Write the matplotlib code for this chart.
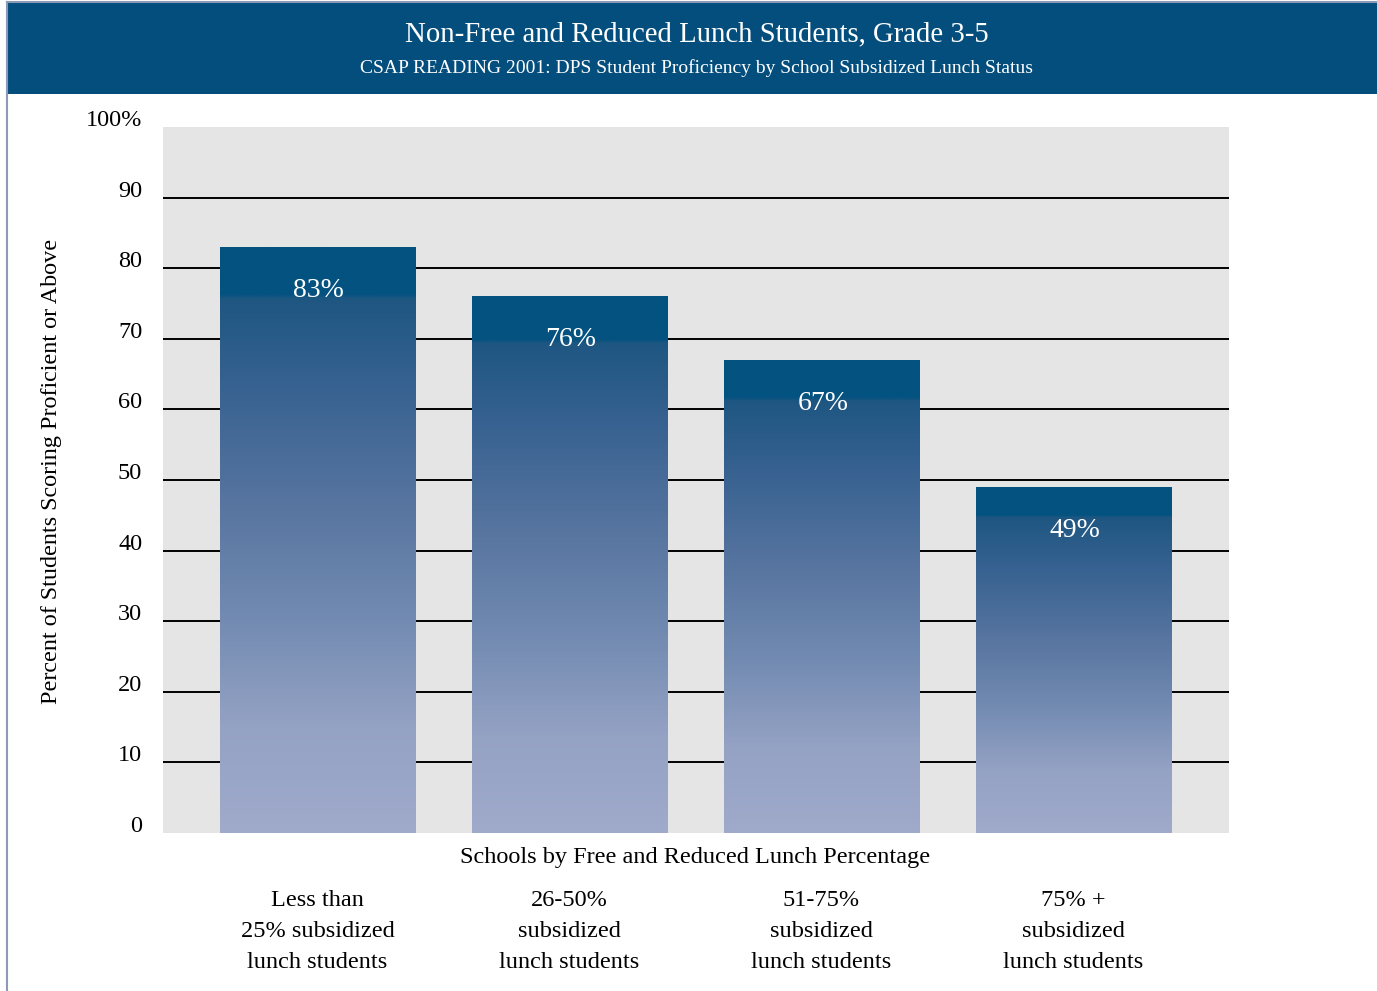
import matplotlib
matplotlib.use("Agg")
import matplotlib.pyplot as plt
import numpy as np
from matplotlib.colors import LinearSegmentedColormap
from matplotlib.patches import Rectangle
from matplotlib.lines import Line2D
from matplotlib.transforms import ScaledTranslation

# data
categories = ["Less than\n25% subsidized\nlunch students",
              "26-50%\nsubsidized\nlunch students",
              "51-75%\nsubsidized\nlunch students",
              "75% +\nsubsidized\nlunch students"]
values = [83, 76, 67, 49]
value_labels = ["83%", "76%", "67%", "49%"]
ytick_values = [0, 10, 20, 30, 40, 50, 60, 70, 80, 90, 100]
ytick_labels = ["0", "10", "20", "30", "40", "50", "60", "70", "80", "90", "100%"]
grid_values = [10, 20, 30, 40, 50, 60, 70, 80, 90]

title = "Non-Free and Reduced Lunch Students, Grade 3-5"
subtitle = "CSAP READING 2001: DPS Student Proficiency by School Subsidized Lunch Status"
xlabel = "Schools by Free and Reduced Lunch Percentage"
ylabel = "Percent of Students Scoring Proficient or Above"

plt.rcParams['font.family'] = ['Liberation Serif', 'DejaVu Serif']

banner_color = "#044E7D"

# gradient for the bars (bottom -> top), dark band at the top
stops = [(0.00, (160/255, 170/255, 203/255)),
         (0.18, (148/255, 162/255, 196/255)),
         (0.38, (112/255, 137/255, 176/255)),
         (0.57, (86/255, 116/255, 159/255)),
         (0.76, (56/255, 98/255, 145/255)),
         (0.915, (30/255, 86/255, 130/255)),
         (0.92, (3/255, 82/255, 128/255)),
         (1.00, (3/255, 82/255, 128/255))]
cmap = LinearSegmentedColormap.from_list("barfade", stops, N=512)

fig = plt.figure(figsize=(13.77, 9.91), dpi=100)
ax = fig.add_axes([163/1377, 1 - 833/991, 1066/1377, 706/991])
ax.set_facecolor("#E5E5E5")

x = np.arange(len(categories))
width = 0.774

ax.hlines(grid_values, -0.62, 3.62, colors="black", linewidth=1.4, zorder=1)

bars = ax.bar(x, values, width=width, color="none", edgecolor="none", zorder=2)
grad = np.linspace(0, 1, 256).reshape(-1, 1)
for b, v in zip(bars, values):
    x0 = b.get_x()
    im = ax.imshow(grad, cmap=cmap, origin="lower", aspect="auto",
                   extent=[x0, x0 + b.get_width(), 0, v], zorder=3,
                   interpolation="bilinear")
    im.set_clip_path(b)

for xi, v, lab in zip(x, values, value_labels):
    ax.annotate(lab, (xi, v), xytext=(1, -31), textcoords="offset points",
                ha="center", va="center", color="white", fontsize=20, zorder=5)

ax.set_xlim(-0.613, 3.617)
ax.set_ylim(0, 100)
for s in ax.spines.values():
    s.set_visible(False)

ax.set_yticks(ytick_values)
ax.set_yticklabels(ytick_labels, fontsize=17.5)
ax.tick_params(axis="y", length=0, pad=15)
off = ScaledTranslation(0, 9/100, fig.dpi_scale_trans)
for t in ax.get_yticklabels():
    t.set_transform(t.get_transform() + off)

ax.set_xticks(x)
ax.set_xticklabels(categories, fontsize=17.5, linespacing=1.62)
ax.tick_params(axis="x", length=0, pad=41)

fig.text(695/1377, 1 - 858/991, xlabel, ha="center", va="center", fontsize=17.5)
fig.text(52/1377, 1 - 471/991, ylabel, ha="center", va="center",
         rotation=90, fontsize=17.4)

# banner
fig.patches.append(Rectangle((7/1377, 1 - 94/991), 1 - 7/1377, 91/991,
                             transform=fig.transFigure, facecolor=banner_color,
                             edgecolor="none", zorder=0))
fig.lines.append(Line2D([7/1377, 7/1377], [0, 1 - 2/991], transform=fig.transFigure,
                        color="#8C9AB8", linewidth=1.5))
fig.lines.append(Line2D([7/1377, 1], [1 - 2/991, 1 - 2/991], transform=fig.transFigure,
                        color="#8C9AB8", linewidth=1.5))
fig.text(697/1377, 1 - 34/991, title, ha="center", va="center",
         color="white", fontsize=20.7)
fig.text(697/1377, 1 - 68/991, subtitle, ha="center", va="center",
         color="white", fontsize=14)

fig.savefig("out.png", dpi=100)
